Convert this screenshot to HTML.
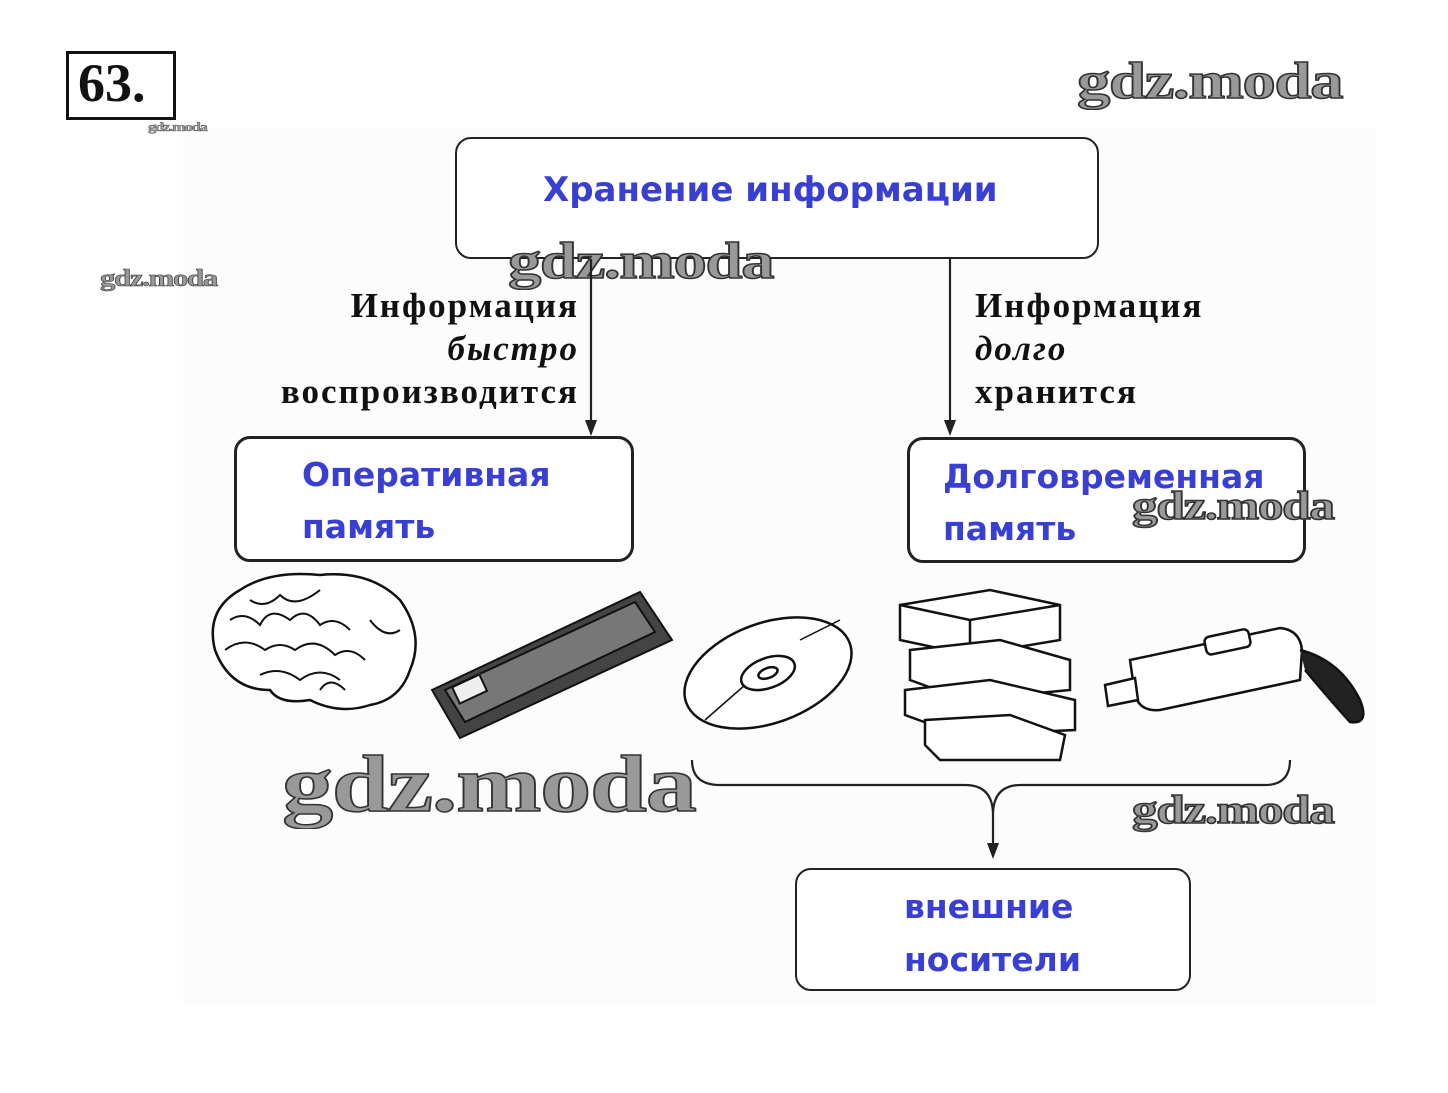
<!DOCTYPE html>
<html><head><meta charset="utf-8">
<style>
body{margin:0;background:#fff;}
.wrap{position:relative;width:1448px;height:1093px;overflow:hidden;background:#fff;font-family:"Liberation Sans",sans-serif;}
.bg{position:absolute;left:183px;top:128px;width:1193px;height:878px;background:#fcfcfc;}
.box{position:absolute;border:2.5px solid #222;border-radius:16px;background:#fff;}
.blue{position:absolute;color:#3a3fd4;font-weight:bold;font-family:"DejaVu Sans","Liberation Sans",sans-serif;white-space:nowrap;}
.ser{position:absolute;font-family:"Liberation Serif",serif;font-size:35px;font-weight:bold;letter-spacing:2px;color:#111;white-space:nowrap;line-height:43px;}
.wm{position:absolute;font-family:"Liberation Serif",serif;font-weight:bold;color:#999;-webkit-text-stroke:1.5px #333;white-space:nowrap;letter-spacing:-1px;transform:scaleX(1.28);transform-origin:left top;}
</style></head><body><div class="wrap">
<div class="bg"></div>
<div style="position:absolute;left:66px;top:51px;width:104px;height:63px;border:3px solid #111;"></div>
<div style="position:absolute;left:78px;top:52px;font-family:'Liberation Serif',serif;font-size:54px;font-weight:bold;color:#111;">63.</div>
<div class="wm" style="left:148px;top:119px;font-size:13px;-webkit-text-stroke:0.3px #333;">gdz.moda</div>
<div class="wm" style="left:1077px;top:52px;font-size:52px;">gdz.moda</div>
<div class="wm" style="left:100px;top:266px;font-size:24px;-webkit-text-stroke:0.6px #333;">gdz.moda</div>

<div class="box" style="left:455px;top:137px;width:640px;height:118px;"></div>
<div class="blue" style="left:543px;top:170px;font-size:34px;">Хранение информации</div>
<div class="wm" style="left:508px;top:232px;font-size:52px;">gdz.moda</div>

<svg style="position:absolute;left:0;top:0" width="1448" height="1093">
<g stroke="#222" stroke-width="2.2" fill="none">
<line x1="591" y1="259" x2="591" y2="425"/>
<line x1="950" y1="259" x2="950" y2="425"/>
<path d="M692 760 Q692 785 720 785 L965 785 Q993 785 993 815 Q993 785 1021 785 L1265 785 Q1290 785 1290 760"/>
<line x1="993" y1="815" x2="993" y2="848"/>
</g>
<g fill="#222">
<path d="M585 420 L597 420 L591 436 Z"/>
<path d="M944 420 L956 420 L950 436 Z"/>
<path d="M987 843 L999 843 L993 859 Z"/>
</g>
<g stroke="#111" stroke-width="2.5" fill="#fff">
<path d="M215 650 Q205 610 240 590 Q270 570 320 575 Q370 570 400 600 Q425 635 410 670 Q400 700 370 705 Q340 715 310 700 Q280 705 270 690 Q230 690 215 650 Z"/>
<path d="M230 620 q15 -10 30 5 q10 -20 30 -5 q15 -15 30 5 q15 -10 30 5 M225 650 q20 -15 40 0 q15 -10 30 0 q20 -15 40 5 q15 -10 30 5 M250 600 q15 10 30 -5 q15 15 40 -5 M260 675 q20 -10 40 5 q20 -15 40 0 M320 690 q10 -15 25 0 M370 620 q15 20 30 10" fill="none" stroke-width="2"/>
</g>
<g stroke="#111" stroke-width="2">
<path d="M432 690 L640 592 L672 640 L460 738 Z" fill="#444"/>
<path d="M445 690 L635 602 L655 632 L465 722 Z" fill="#777"/>
<rect x="455" y="680" width="30" height="18" fill="#eee" transform="rotate(-25 470 690)"/>
</g>
<g stroke="#111" stroke-width="2.5" fill="#fff">
<ellipse cx="768" cy="673" rx="87" ry="50" transform="rotate(-20 768 673)"/>
<ellipse cx="768" cy="673" rx="28" ry="15" transform="rotate(-20 768 673)"/>
<ellipse cx="768" cy="673" rx="10" ry="5" transform="rotate(-20 768 673)"/>
<path d="M705 720 L745 685 M800 640 L840 620" fill="none" stroke-width="1.5"/>
</g>
<g stroke="#111" stroke-width="2.5" fill="#fff">
<path d="M900 605 L990 590 L1060 605 L1060 640 L970 655 L900 640 Z"/>
<path d="M900 605 L970 620 L1060 605 M970 620 L970 655"/>
<path d="M910 650 L1000 640 L1070 660 L1070 690 L965 700 L910 680 Z"/>
<path d="M905 690 L990 680 L1075 700 L1075 730 L960 735 L905 715 Z"/>
<path d="M925 720 L1010 715 L1065 735 L1060 760 L940 760 L925 745 Z"/>
</g>
<g stroke="#111" stroke-width="2.5" fill="#fff">
<path d="M1130 660 L1280 628 Q1300 630 1302 650 L1300 680 L1160 710 Q1140 712 1135 695 Z"/>
<path d="M1105 685 L1135 678 L1138 700 L1108 706 Z"/>
<rect x="1205" y="633" width="45" height="18" rx="5" transform="rotate(-12 1227 642)"/>
<path d="M1300 650 Q1340 660 1360 700 Q1370 725 1350 722 Q1330 700 1305 670" fill="#222"/>
</g>
</svg>

<div class="ser" style="right:869px;top:284px;text-align:right;">Информация<br><i>быстро</i><br>воспроизводится</div>
<div class="ser" style="left:975px;top:284px;">Информация<br><i>долго</i><br>хранится</div>

<div class="box" style="left:234px;top:436px;width:394px;height:120px;border-width:3px;"></div>
<div class="blue" style="left:302px;top:449px;font-size:33px;line-height:52px;">Оперативная<br>память</div>
<div class="box" style="left:907px;top:437px;width:393px;height:120px;border-width:3px;"></div>
<div class="blue" style="left:943px;top:451px;font-size:33px;line-height:52px;">Долговременная<br>память</div>
<div class="wm" style="left:1132px;top:482px;font-size:40px;">gdz.moda</div>

<div class="wm" style="left:282px;top:740px;font-size:80px;">gdz.moda</div>
<div class="wm" style="left:1132px;top:786px;font-size:40px;">gdz.moda</div>

<div class="box" style="left:795px;top:868px;width:392px;height:119px;"></div>
<div class="blue" style="left:904px;top:880px;font-size:33px;line-height:53px;">внешние<br>носители</div>
</div></body></html>
